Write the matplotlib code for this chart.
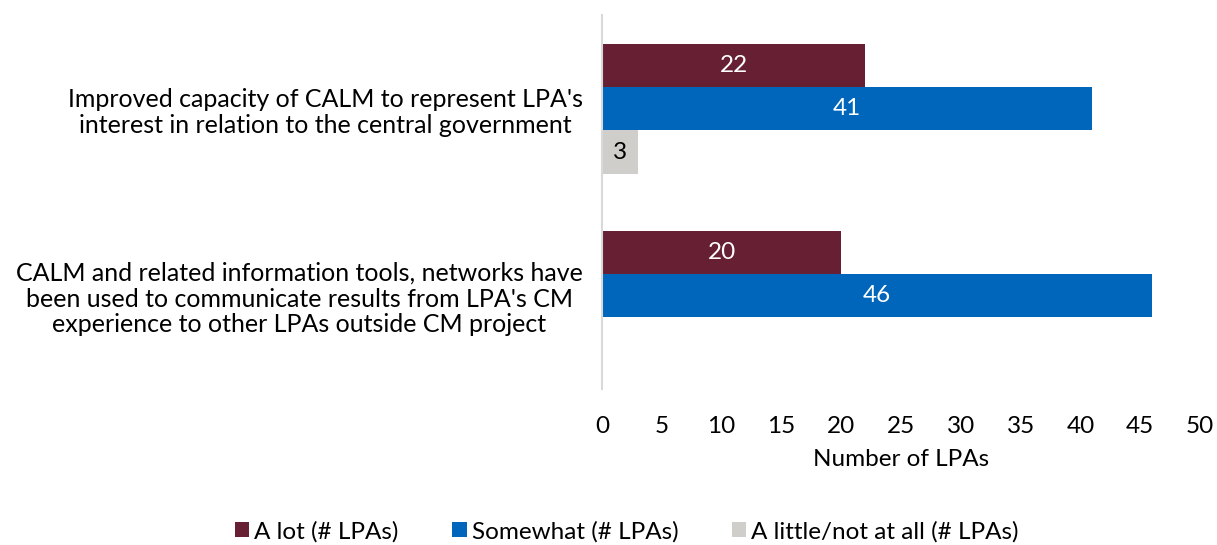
import matplotlib.pyplot as plt
import numpy as np

plt.rcParams['font.family'] = ['Lato', 'DejaVu Sans']

categories = [
    "Improved capacity of CALM to represent LPA's\ninterest in relation to the central government",
    "CALM and related information tools, networks have\nbeen used to communicate results from LPA's CM\nexperience to other LPAs outside CM project",
]
series_names = ["A lot (# LPAs)", "Somewhat (# LPAs)", "A little/not at all (# LPAs)"]
a_lot = [22, 20]
somewhat = [41, 46]
a_little = [3, None]

colors = ["#661F33", "#0066BB", "#D0CECA"]
label_colors = ["white", "white", "black"]
fs = 17.5

fig = plt.figure(figsize=(12.17, 5.45), dpi=100)
ax = fig.add_axes([0.4947, 0.286, 0.4913, 0.686])

bar_h = 0.232
y_centers = np.arange(len(categories))
offsets = [-bar_h, 0, bar_h]
all_series = [a_lot, somewhat, a_little]

for vals, name, col, lcol, off in zip(all_series, series_names, colors, label_colors, offsets):
    ys = [y + off for y, v in zip(y_centers, vals) if v is not None]
    vs = [v for v in vals if v is not None]
    bars = ax.barh(ys, vs, height=bar_h, color=col, label=name)
    ax.bar_label(bars, labels=[str(v) for v in vs], label_type='center',
                 color=lcol, fontsize=fs)

ax.set_xlim(0, 50)
ax.set_ylim(len(categories) - 0.5, -0.5)
ax.set_xticks(np.arange(0, 51, 5))
ax.set_yticks(y_centers)
ax.set_yticklabels(categories, fontsize=18, multialignment='center', linespacing=1.15)
ax.tick_params(axis='x', labelsize=fs, length=0, pad=19)
ax.tick_params(axis='y', length=0, pad=14)
ax.set_xlabel("Number of LPAs", fontsize=fs, labelpad=9)

for s in ['top', 'right', 'bottom']:
    ax.spines[s].set_visible(False)
ax.spines['left'].set_color('#D9D9D9')
ax.spines['left'].set_linewidth(1.5)

handles, labels = ax.get_legend_handles_labels()
fig.legend(handles, labels, loc='lower center', bbox_to_anchor=(0.515, -0.035),
           ncol=3, frameon=False, fontsize=fs, handlelength=0.6, handleheight=0.6,
           handletextpad=0.2, columnspacing=2.2)

fig.savefig('out.png', dpi=100)
